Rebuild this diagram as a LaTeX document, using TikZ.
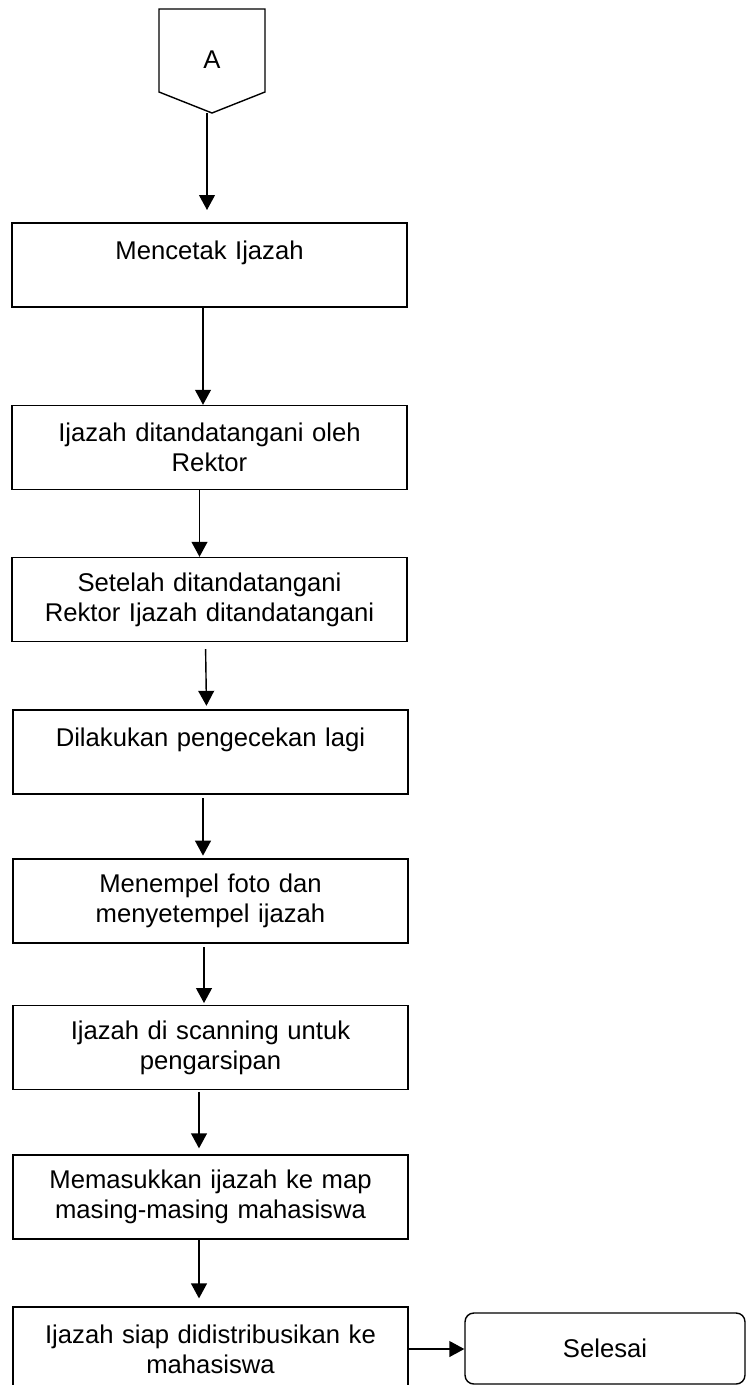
\documentclass[tikz,border=0pt]{standalone}
\usepackage{fontspec}
\setmainfont{Liberation Sans}
\usetikzlibrary{arrows.meta}
\newcommand{\boxFont}[0]{\fontsize{14.6}{17}\selectfont}

\begin{document}
\begin{tikzpicture}[x=0.02cm,y=-0.02cm]
  \tikzset{langkah/.style={draw,line width=0.8pt,minimum width=7.9cm,minimum height=1.68cm,
             text width=7.5cm,align=center,font=\boxFont},
           akhir/.style={draw,line width=0.8pt,rounded corners=5pt,minimum width=5.6cm,
             minimum height=1.42cm,align=center,font=\boxFont},
           panah/.style={line width=0.8pt,-{Triangle[length=8.5pt,width=9pt]}}}
  \useasboundingbox (0,0) rectangle (750,1385);
  \draw[line width=0.8pt] (159,9) -- (265,9) -- (265,92) -- (212,113) -- (159,92) -- cycle;
  \node[font=\boxFont] (a) at (212,60) {A};
  \coordinate (aBawah) at (207,113);
  \node[langkah] (b1) at (209.5,265) {Mencetak Ijazah\\~};
  \node[langkah] (b2) at (209.5,447.5) {Ijazah ditandatangani oleh\\Rektor};
  \node[langkah] (b3) at (209.5,599.5) {Setelah ditandatangani\\Rektor Ijazah ditandatangani};
  \node[langkah] (b4) at (210.5,752) {Dilakukan pengecekan lagi\\~};
  \node[langkah] (b5) at (210.5,901) {Menempel foto dan\\menyetempel ijazah};
  \node[langkah] (b6) at (210.5,1047.5) {Ijazah di scanning untuk\\pengarsipan};
  \node[langkah] (b7) at (210.5,1197) {Memasukkan ijazah ke map\\masing-masing mahasiswa};
  \node[langkah] (b8) at (210.5,1349) {Ijazah siap didistribusikan ke\\mahasiswa};
  \node[akhir] (selesai) at (605,1348.5) {Selesai};
  \draw[panah,shorten >=7pt] (aBawah) -- (aBawah |- b1.north);
  \draw[panah] ([xshift=-0.13cm]b1.south) -- ([xshift=-0.13cm]b2.north);
  \draw[panah] ([xshift=-0.2cm]b2.south) -- ([xshift=-0.2cm]b3.north);
  \draw[panah,shorten <=4pt,shorten >=2pt] ([xshift=-0.08cm]b3.south) -- ([xshift=-0.08cm]b4.north);
  \draw[panah,shorten <=2pt,shorten >=1.5pt] ([xshift=-0.15cm]b4.south) -- ([xshift=-0.15cm]b5.north);
  \draw[panah,shorten <=2pt,shorten >=1pt] ([xshift=-0.13cm]b5.south) -- ([xshift=-0.13cm]b6.north);
  \draw[panah,shorten <=1pt,shorten >=3.4pt] ([xshift=-0.23cm]b6.south) -- ([xshift=-0.23cm]b7.north);
  \draw[panah,shorten >=4.5pt] ([xshift=-0.23cm]b7.south) -- ([xshift=-0.23cm]b8.north);
  \draw[panah] (b8.east) -- (b8.east -| selesai.west);
\end{tikzpicture}
\end{document}
